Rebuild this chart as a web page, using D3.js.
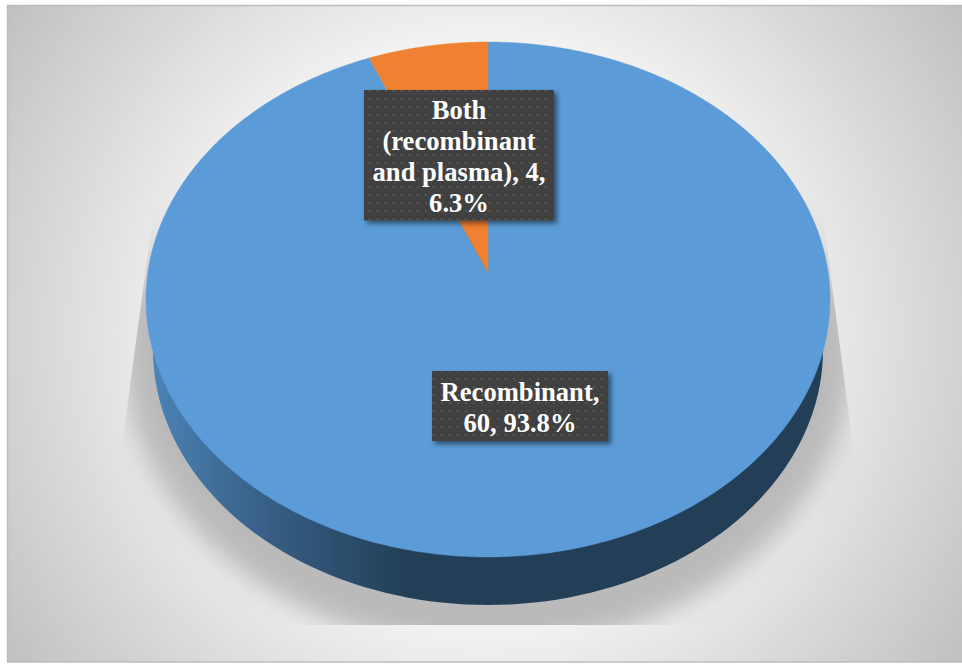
<!DOCTYPE html>
<html>
<head>
<meta charset="utf-8">
<script src="https://cdn.jsdelivr.net/npm/d3@7"></script>
<style>
  html, body { margin: 0; padding: 0; background: #fff; }
  svg { display: block; }
  text { font-family: "Liberation Serif", "Times New Roman", serif; font-weight: 700; fill: #fff; font-size: 26.6px; }
</style>
</head>
<body>
<div id="chart"></div>
<script>
// Product type split
const categories = ["Recombinant", "Both (recombinant and plasma)"];
const values = [60, 4];
const colors = ["#5b9bd7", "#f18132"];
const labelLines = [
  ["Recombinant,", "{v}, {p}%"],
  ["Both", "(recombinant", "and plasma), {v},", "{p}%"]
];

const width = 962, height = 664;
const svg = d3.select("#chart").append("svg").attr("width", width).attr("height", height);
const defs = svg.append("defs");

// Backdrop: light centre falling off to grey corners
const bg = defs.append("radialGradient").attr("id", "bg")
  .attr("gradientUnits", "userSpaceOnUse")
  .attr("cx", 484).attr("cy", 333).attr("r", 586);
bg.append("stop").attr("offset", "0.5").attr("stop-color", "#f2f2f2");
bg.append("stop").attr("offset", "1").attr("stop-color", "#bfbfbf");

// Rim shading runs dark from the front-left
const rim = defs.append("linearGradient").attr("id", "rim")
  .attr("gradientUnits", "userSpaceOnUse")
  .attr("x1", 150).attr("x2", 405).attr("y1", 0).attr("y2", 0);
rim.append("stop").attr("offset", "0").attr("stop-color", "#4c84b6");
rim.append("stop").attr("offset", "0.45").attr("stop-color", "#375f87");
rim.append("stop").attr("offset", "1").attr("stop-color", "#233f57");

const blur = defs.append("filter").attr("id", "soft")
  .attr("x", "-20%").attr("y", "-20%").attr("width", "140%").attr("height", "140%");
blur.append("feGaussianBlur").attr("stdDeviation", 12);

const boxShadow = defs.append("filter").attr("id", "boxShadow")
  .attr("x", "-10%").attr("y", "-10%").attr("width", "125%").attr("height", "125%");
boxShadow.append("feDropShadow").attr("dx", 3).attr("dy", 3).attr("stdDeviation", 2.5)
  .attr("flood-color", "#000").attr("flood-opacity", 0.5);

// Dotted texture of the label boxes
const dots = defs.append("pattern").attr("id", "dots")
  .attr("patternUnits", "userSpaceOnUse").attr("width", 8).attr("height", 8);
dots.append("rect").attr("width", 8).attr("height", 8).attr("fill", "#3f3f3f");
dots.append("rect").attr("x", 1).attr("y", 2).attr("width", 2).attr("height", 2).attr("fill", "#525252");
dots.append("rect").attr("x", 5).attr("y", 6).attr("width", 2).attr("height", 1).attr("fill", "#494949");

// Shadow is cut off along the slanted sides and the floor line, and fades out towards the top
defs.append("clipPath").attr("id", "shadowClip").append("polygon")
  .attr("points", "155,200 821,200 876,625 98,625");
const fade = defs.append("linearGradient").attr("id", "shadowFade")
  .attr("gradientUnits", "userSpaceOnUse")
  .attr("x1", 0).attr("x2", 0).attr("y1", 195).attr("y2", 310);
fade.append("stop").attr("offset", "0").attr("stop-color", "#fff").attr("stop-opacity", 0);
fade.append("stop").attr("offset", "0.4").attr("stop-color", "#fff").attr("stop-opacity", 0.3);
fade.append("stop").attr("offset", "1").attr("stop-color", "#fff").attr("stop-opacity", 1);
defs.append("mask").attr("id", "shadowMask")
  .attr("maskUnits", "userSpaceOnUse")
  .attr("x", 0).attr("y", 0).attr("width", width).attr("height", height)
  .append("rect").attr("y", 195).attr("width", width).attr("height", height)
  .attr("fill", "url(#shadowFade)");

svg.append("rect").attr("x", 7.5).attr("y", 5.5).attr("width", 960).attr("height", 656.5)
  .attr("fill", "url(#bg)").attr("stroke", "#bcbcbc").attr("stroke-width", 1.5);

svg.append("g").attr("clip-path", "url(#shadowClip)").attr("mask", "url(#shadowMask)")
  .append("ellipse")
  .attr("cx", 488).attr("cy", 350).attr("rx", 365).attr("ry", 300)
  .attr("fill", "#bababa").attr("filter", "url(#soft)");

// Tilted disc: a projective map of the unit circle, so the slice centre sits above the ellipse centre
const cx = 488, topY = 42, hubY = 273, botY = 557, halfW = 340.2;
const persp = (2 * hubY - topY - botY) / (botY - topY);
const lift = botY * (1 + persp) - hubY;
function project(angle, r) {
  const u = -Math.cos(angle) * r, x = Math.sin(angle) * r;
  const d = 1 + persp * u;
  return [cx + halfW * x / d, (lift * u + hubY) / d];
}

const line = d3.line();
const ringPath = (cxx, cyy, rx, ry) => line(d3.range(0, 361, 2).map(a => {
  const t = a * Math.PI / 180;
  return [cxx + rx * Math.sin(t), cyy - ry * Math.cos(t)];
})) + "Z";

// Rim: lower ellipse showing beneath the top face
svg.append("path").attr("d", ringPath(cx, 350, 335, 255)).attr("fill", "url(#rim)");

const arcs = d3.pie().sort(null)(values);
function slicePath(a) {
  const steps = Math.max(4, Math.ceil((a.endAngle - a.startAngle) / 0.01));
  const pts = d3.range(steps + 1).map(i =>
    project(a.startAngle + (a.endAngle - a.startAngle) * i / steps, 1));
  return line([project(0, 0), ...pts]) + "Z";
}
svg.append("g").selectAll("path").data(arcs).join("path")
  .attr("d", slicePath)
  .attr("fill", (d, i) => colors[i])
  .attr("stroke", (d, i) => colors[i]).attr("stroke-width", 0.4);

// Data labels: box position, then one baseline per line
const total = d3.sum(values);
const boxes = [
  { x: 432, y: 371, w: 176, h: 70, first: 400.5 },
  { x: 364, y: 90, w: 190, h: 130.5, first: 119 }
];
const lineStep = 31;
categories.forEach((name, i) => {
  const b = boxes[i];
  const g = svg.append("g").attr("class", "label").attr("aria-label", name);
  g.append("rect").attr("x", b.x).attr("y", b.y).attr("width", b.w).attr("height", b.h)
    .attr("fill", "url(#dots)").attr("filter", "url(#boxShadow)");
  const pct = (values[i] / total * 100).toFixed(1);
  g.selectAll("text").data(labelLines[i]).join("text")
    .attr("x", b.x + b.w / 2)
    .attr("y", (d, j) => b.first + j * lineStep)
    .attr("text-anchor", "middle")
    .text(d => d.replace("{v}", values[i]).replace("{p}", pct));
});
</script>
</body>
</html>
